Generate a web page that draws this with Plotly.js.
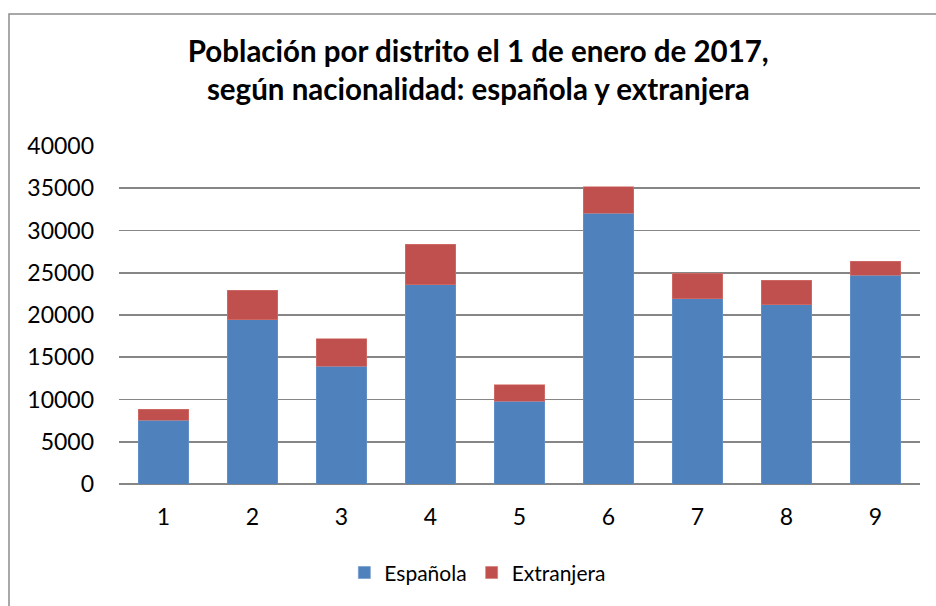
<!DOCTYPE html>
<html>
<head>
<meta charset="utf-8">
<script src="https://cdn.plot.ly/plotly-3.0.1.min.js"></script>
<style>
html,body{margin:0;padding:0;background:#fff;}
#chart{width:936px;height:606px;}
</style>
</head>
<body>
<div id="chart"></div>
<script>
const distritos = ['1','2','3','4','5','6','7','8','9'];
const espanola = [7560, 19440, 13950, 23590, 9800, 32060, 21910, 21200, 24730];
const extranjera = [1300, 3490, 3250, 4780, 1920, 3130, 3050, 2900, 1650];
const yTicks = [0, 5000, 10000, 15000, 20000, 25000, 30000, 35000, 40000];

const font = 'Lato, "Open Sans", sans-serif';

const traces = [
  {type:'bar', name:'Española', x:distritos, y:espanola,
   marker:{color:'#4F81BD', line:{color:'#6d97cc', width:0.6}}},
  {type:'bar', name:'Extranjera', x:distritos, y:extranjera,
   marker:{color:'#C0504D', line:{color:'#d57673', width:0.6}}}
];

const layout = {
  width:936, height:606,
  barmode:'stack', bargap:0.43,
  margin:{l:119, r:16, t:146, b:120},
  paper_bgcolor:'#fff', plot_bgcolor:'#fff',
  font:{family:font, color:'#000'},
  title:{text:'<b>Población por distrito el 1 de enero de 2017,<br>según nacionalidad: española y extranjera</b>',
         font:{family:font, size:29.5, color:'#000'},
         x:0.511, xanchor:'center', y:0.898, yanchor:'middle', yref:'container'},
  xaxis:{type:'category', tickfont:{size:23, family:font}, showgrid:false, showline:false,
         ticks:'', ticklabelstandoff:17},
  yaxis:{range:[0,40000], tickvals:yTicks, ticktext:yTicks.map(String),
         tickfont:{size:23, family:font}, showgrid:true, gridcolor:'#868686', gridwidth:1.6,
         zeroline:true, zerolinecolor:'#868686', zerolinewidth:1.6,
         showline:false, ticks:'', ticklabelstandoff:24, fixedrange:true},
  legend:{orientation:'h', traceorder:'normal', x:0.448, xanchor:'center', y:-0.263, yanchor:'middle',
          font:{size:21, family:font}, itemwidth:30},
  showlegend:true,
  shapes:[{type:'rect', xref:'paper', yref:'paper',
           x0:(9-119)/801, x1:1.2, y0:-0.6, y1:(485.7-13)/340,
           line:{color:'#8c8c8c', width:1.5}, fillcolor:'rgba(0,0,0,0)', layer:'below'}]
};

Plotly.newPlot('chart', traces, layout, {staticPlot:true, displayModeBar:false});
</script>
</body>
</html>
